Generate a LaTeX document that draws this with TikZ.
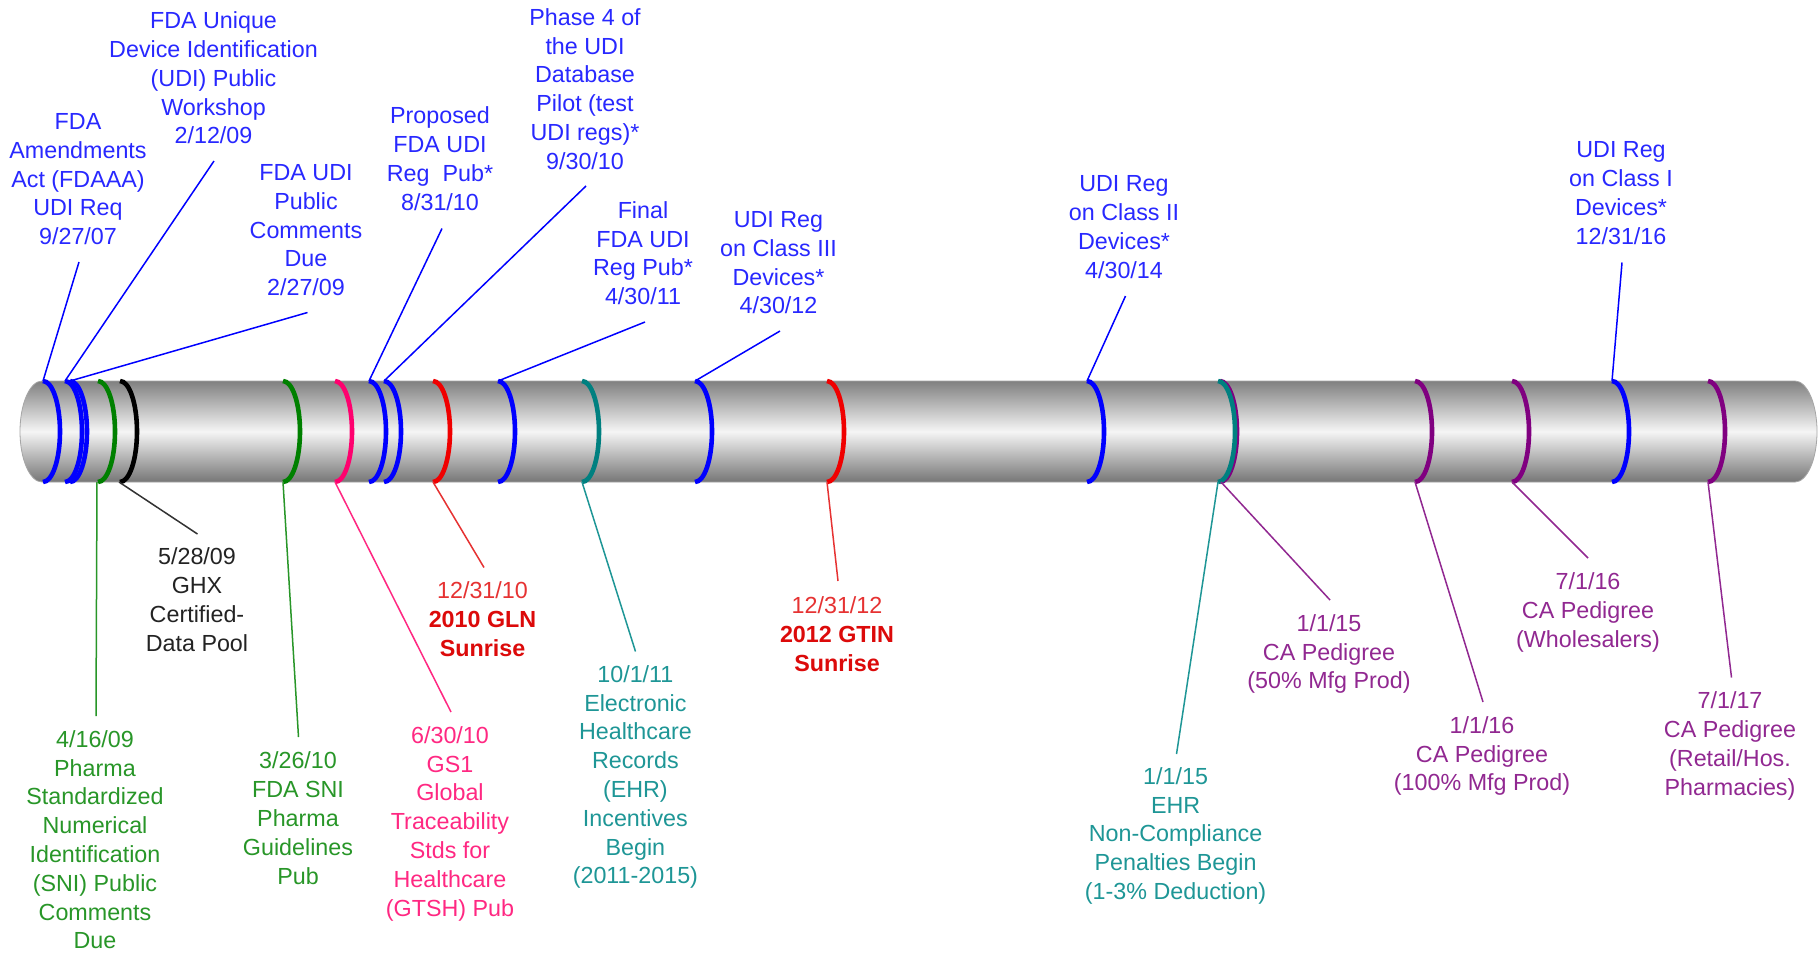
\documentclass[tikz,border=0pt]{standalone}
\usepackage{fontspec}
\setmainfont{Liberation Sans}
\definecolor{ublue}{RGB}{0,0,255}
\definecolor{ubluet}{RGB}{40,40,255}
\definecolor{ugreen}{RGB}{0,128,0}
\definecolor{ugreent}{RGB}{40,150,40}
\definecolor{upink}{RGB}{255,0,110}
\definecolor{upinkt}{RGB}{255,40,130}
\definecolor{ured}{RGB}{240,0,0}
\definecolor{uredt}{RGB}{230,50,50}
\definecolor{uredb}{RGB}{220,10,10}
\definecolor{uteal}{RGB}{0,128,128}
\definecolor{utealt}{RGB}{30,150,150}
\definecolor{upurple}{RGB}{128,0,128}
\definecolor{upurplet}{RGB}{145,40,145}
\definecolor{ublack}{RGB}{0,0,0}
\definecolor{ublackt}{RGB}{35,35,35}
\definecolor{cylA}{RGB}{128,128,128}
\definecolor{cylB}{RGB}{245,245,245}
\definecolor{cylC}{RGB}{118,118,118}
\begin{document}
\begin{tikzpicture}[x=0.5pt,y=-0.5pt,
  lbl/.style={align=center, inner sep=0pt, anchor=north, font=\fontsize{11.65}{14.4}\selectfont},
  conn/.style={line width=0.75pt},
  ringline/.style={line width=2.3pt},
]
\fill[white] (0,0) rectangle (1818,954);
\useasboundingbox (0,0) rectangle (1818,954);

% cylinder
\shade[top color=cylA, bottom color=cylC, middle color=cylB, draw=gray!70, line width=0.4pt]
  (42,381) -- (1795,381) .. controls +(12,0) and +(0,-28) .. (1817,431.5)
  .. controls +(0,28) and +(12,0) .. (1795,482) -- (42,482)
  .. controls +(-12,0) and +(0,28) .. (20,431.5)
  .. controls +(0,-28) and +(-12,0) .. cycle;

% rings
\foreach \x/\c in {43/ublue, 65/ublue, 70/ublue, 98/ugreen, 120/ublack, 283/ugreen, 335/upink,
  369/ublue, 384/ublue, 433/ured, 498/ublue, 582/uteal, 695/ublue, 827/ured, 1087/ublue,
  1220/upurple, 1218/uteal, 1415/upurple, 1512/upurple, 1612/ublue, 1708/upurple}{
  \draw[ringline, draw=\c] (\x,381) .. controls +(9.4,0) and +(0,-27.9) .. (\x+17,431.5)
    .. controls +(0,27.9) and +(9.4,0) .. (\x,482);
}

% ring end points
\coordinate (t1) at (43,381);
\coordinate (t2) at (65,381);
\coordinate (t3) at (70,381);
\coordinate (t8) at (369,381);
\coordinate (t9) at (384,381);
\coordinate (t11) at (498,381);
\coordinate (t13) at (695,381);
\coordinate (t15) at (1087,381);
\coordinate (t19) at (1612,381);
\coordinate (b4) at (97,482);
\coordinate (b5) at (119,482);
\coordinate (b6) at (283,482);
\coordinate (b7) at (335,482);
\coordinate (b10) at (433,482);
\coordinate (b12) at (582,482);
\coordinate (b14) at (827,482);
\coordinate (b16) at (1218,482);
\coordinate (b16p) at (1221,482);
\coordinate (b17) at (1415,482);
\coordinate (b18) at (1512,482);
\coordinate (b20) at (1708,482);

% upper labels
\node[lbl, text=ubluet] (u1) at (78,113) {FDA\\Amendments\\Act (FDAAA)\\UDI Req\\9/27/07};
\node[lbl, text=ubluet] (u2) at (213.5,11.5) {FDA Unique\\Device Identification\\(UDI) Public\\Workshop\\2/12/09};
\node[lbl, text=ubluet] (u3) at (306,164) {FDA UDI\\Public\\Comments\\Due\\2/27/09};
\node[lbl, text=ubluet] (u4) at (440,106.5) {Proposed\\FDA UDI\\Reg\ \ Pub*\\8/31/10};
\node[lbl, text=ubluet] (u5) at (585,8) {Phase 4 of\\the UDI\\Database\\Pilot (test\\UDI regs)*\\9/30/10};
\node[lbl, text=ubluet] (u6) at (643,201) {Final\\FDA UDI\\Reg Pub*\\4/30/11};
\node[lbl, text=ubluet] (u7) at (778.5,211) {UDI Reg\\on Class III\\Devices*\\4/30/12};
\node[lbl, text=ubluet] (u8) at (1124,175.5) {UDI Reg\\on Class II\\Devices*\\4/30/14};
\node[lbl, text=ubluet] (u9) at (1621,141.5) {UDI Reg\\on Class I\\Devices*\\12/31/16};

\coordinate (u1e) at (79,262);
\coordinate (u2e) at (214,161);
\coordinate (u3e) at (307.5,312.5);
\coordinate (u4e) at (442,228.5);
\coordinate (u5e) at (586,186);
\coordinate (u6e) at (645,322);
\coordinate (u7e) at (780,331);
\coordinate (u8e) at (1125.5,296);
\coordinate (u9e) at (1622,262.5);

\draw[conn, ublue] (u1e) -- (t1);
\draw[conn, ublue] (u2e) -- (t2);
\draw[conn, ublue] (u3e) -- (t3);
\draw[conn, ublue] (u4e) -- (t8);
\draw[conn, ublue] (u5e) -- (t9);
\draw[conn, ublue] (u6e) -- (t11);
\draw[conn, ublue] (u7e) -- (t13);
\draw[conn, ublue] (u8e) -- (t15);
\draw[conn, ublue] (u9e) -- (t19);

% lower labels
\node[lbl, text=ublackt] (l1) at (197,547.5) {5/28/09\\GHX\\Certified-\\Data Pool};
\node[lbl, text=ugreent] (l2) at (95,730) {4/16/09\\Pharma\\Standardized\\Numerical\\Identification\\(SNI) Public\\Comments\\Due};
\node[lbl, text=ugreent] (l3) at (298,751.5) {3/26/10\\FDA SNI\\Pharma\\Guidelines\\Pub};
\node[lbl, text=upinkt] (l4) at (450,726) {6/30/10\\GS1\\Global\\Traceability\\Stds for\\Healthcare\\(GTSH) Pub};
\node[lbl, text=uredt] (l5) at (482.5,581.5) {12/31/10\\\textcolor{uredb}{\bfseries 2010 GLN}\\\textcolor{uredb}{\bfseries Sunrise}};
\node[lbl, text=utealt] (l6) at (635.4,665) {10/1/11\\Electronic\\Healthcare\\Records\\(EHR)\\Incentives\\Begin\\(2011-2015)};
\node[lbl, text=uredt] (l7) at (837,596.5) {12/31/12\\\textcolor{uredb}{\bfseries 2012 GTIN}\\\textcolor{uredb}{\bfseries Sunrise}};
\node[lbl, text=utealt] (l8) at (1175.6,767) {1/1/15\\EHR\\Non-Compliance\\Penalties Begin\\(1-3\% Deduction)};
\node[lbl, text=upurplet] (l9) at (1329,614) {1/1/15\\CA Pedigree\\(50\% Mfg Prod)};
\node[lbl, text=upurplet] (l10) at (1482,716) {1/1/16\\CA Pedigree\\(100\% Mfg Prod)};
\node[lbl, text=upurplet] (l11) at (1588,572.5) {7/1/16\\CA Pedigree\\(Wholesalers)};
\node[lbl, text=upurplet] (l12) at (1730,691.5) {7/1/17\\CA Pedigree\\(Retail/Hos.\\Pharmacies)};

\coordinate (l1e) at (197.5,534);
\coordinate (l2e) at (96,716);
\coordinate (l3e) at (298.5,737);
\coordinate (l4e) at (451,712);
\coordinate (l5e) at (484,567.5);
\coordinate (l6e) at (635.5,651.5);
\coordinate (l7e) at (838,581);
\coordinate (l8e) at (1176.5,754);
\coordinate (l9e) at (1330,600);
\coordinate (l10e) at (1483,702);
\coordinate (l11e) at (1588,558);
\coordinate (l12e) at (1731.5,677.5);

\draw[conn, ublack!80] (b5) -- (l1e);
\draw[conn, ugreent] (b4) -- (l2e);
\draw[conn, ugreent] (b6) -- (l3e);
\draw[conn, upinkt] (b7) -- (l4e);
\draw[conn, uredt] (b10) -- (l5e);
\draw[conn, utealt] (b12) -- (l6e);
\draw[conn, uredt] (b14) -- (l7e);
\draw[conn, utealt] (b16) -- (l8e);
\draw[conn, upurplet] (b16p) -- (l9e);
\draw[conn, upurplet] (b17) -- (l10e);
\draw[conn, upurplet] (b18) -- (l11e);
\draw[conn, upurplet] (b20) -- (l12e);
\end{tikzpicture}
\end{document}
